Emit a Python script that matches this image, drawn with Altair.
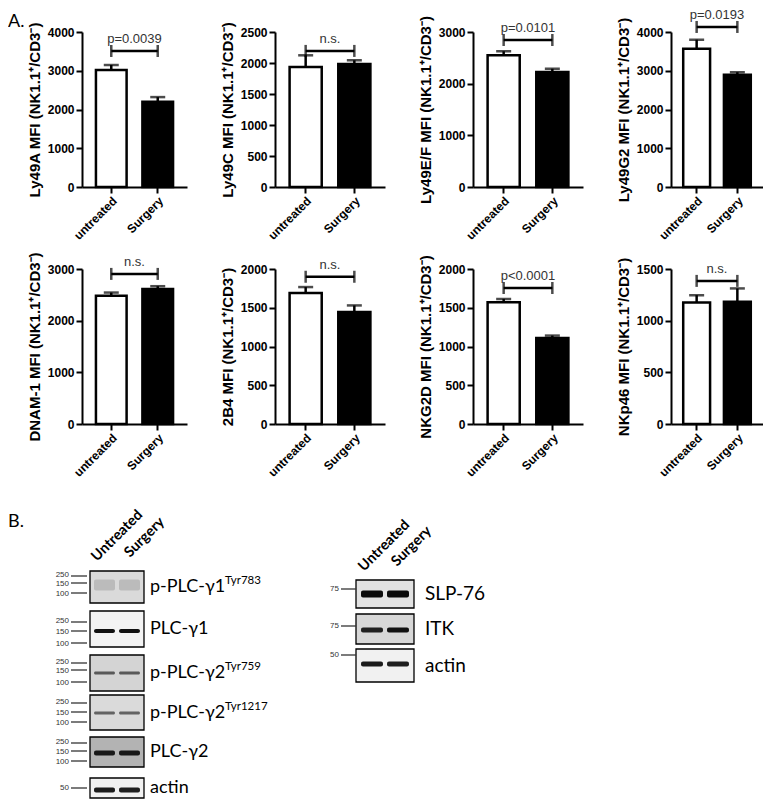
import altair as alt
import pandas as pd

# ---------------- Panel A: values ----------------
groups = ["untreated", "Surgery"]
receptors = ["Ly49A", "Ly49C", "Ly49E/F", "Ly49G2", "DNAM-1", "2B4", "NKG2D", "NKp46"]
mean_untreated = [3020, 1935, 2550, 3570, 2480, 1690, 1570, 1175]
mean_surgery = [2200, 1985, 2225, 2900, 2615, 1445, 1110, 1182]
sem_untreated = [128, 189, 77, 232, 64, 77, 44, 72]
sem_surgery = [120, 59, 64, 62, 52, 85, 31, 130]
axis_max = [4000, 2500, 3000, 4000, 3000, 2000, 2000, 1500]
axis_step = [1000, 500, 1000, 1000, 1000, 500, 500, 500]
p_text = ["p=0.0039", "n.s.", "p=0.0101", "p=0.0193", "n.s.", "n.s.", "p<0.0001", "n.s."]
bracket_level = [3510, 2195, 2845, 4130, 2905, 1900, 1755, 1385]

# ---------------- Panel B: blot contents ----------------
lanes = ["Untreated", "Surgery"]
left_blots = ["p-PLC-γ1", "PLC-γ1", "p-PLC-γ2", "p-PLC-γ2", "PLC-γ2", "actin"]
left_sups = ["Tyr783", "", "Tyr759", "Tyr1217", "", ""]
left_bg = [0.13, 0.04, 0.15, 0.13, 0.27, 0.05]
left_band_untreated = [0.24, 0.95, 0.62, 0.58, 0.92, 0.9]
left_band_surgery = [0.24, 0.95, 0.62, 0.58, 0.92, 0.88]
left_ladders = [["250", "150", "100"]] * 5 + [["50"]]
right_blots = ["SLP-76", "ITK", "actin"]
right_bg = [0.1, 0.14, 0.05]
right_band_untreated = [0.97, 0.88, 0.9]
right_band_surgery = [0.97, 0.95, 0.88]
right_ladders = [["75"], ["75"], ["50"]]

# ---------------- layout (pixels) ----------------
panel_width = [105, 110, 110, 92]
PLOT_H = 155
ROW_GAP = 82
AX_FONT = "Liberation Sans"
BL_FONT = "Lato"
ORIGIN_X = 84          # figure x of the first plot's left edge
B_TOP = 501            # figure y at the top of panel B cell

left_box_x = (92, 146)
left_lane_x = [(96, 117), (121, 142)]
left_box_y = [(566, 598), (606, 642), (650, 686), (690, 725), (732, 762), (773, 793)]
left_band_y = [580, 626, 668, 708, 748, 785]
left_band_h = [11, 4, 3, 3, 5, 5]
left_ladder_y = [[571, 578, 588], [617, 626, 638], [658, 665, 677],
                 [698, 707, 717], [738, 746, 756], [783]]
ladder_text_nudge = [-1.2, 0.6, 0.5]   # keeps the squeezed size labels apart
left_ladder_x = (73, 89)
left_label_x = 152
left_sup_x = 227

right_box_x = (358, 416)
right_lane_x = [(363, 385), (389, 411)]
right_box_y = [(575, 603), (609, 639), (644, 677)]
right_band_y = [589, 625, 659]
right_band_h = [7, 5, 5]
right_ladder_y = [[584], [621], [650]]
right_ladder_x = (343, 358)
right_label_x = 427

lane_anchor_left = [(99, 557), (132, 553)]
lane_anchor_right = [(366, 567), (399, 562)]


def bar_panel(i):
    w = panel_width[i % 4]
    df = pd.DataFrame({
        "group": groups,
        "mean": [mean_untreated[i], mean_surgery[i]],
        "upper": [mean_untreated[i] + sem_untreated[i], mean_surgery[i] + sem_surgery[i]],
    })
    brk = pd.DataFrame({"group": groups, "level": [bracket_level[i]] * 2})
    lab = pd.DataFrame({"level": [bracket_level[i]], "text": [p_text[i]]})

    yscale = alt.Scale(domain=[0, axis_max[i]], nice=False, zero=True)
    yaxis = alt.Axis(
        values=list(range(0, axis_max[i] + 1, axis_step[i])), format="d",
        title=f"{receptors[i]} MFI (NK1.1⁺/CD3⁻)", grid=False,
        domainColor="black", domainWidth=2, tickColor="black", tickWidth=2, tickSize=6,
        labelFont=AX_FONT, labelFontSize=12, labelFontWeight="bold", labelColor="black",
        labelPadding=2, titleFont=AX_FONT, titleFontSize=15, titleFontWeight="bold",
        titleColor="black", titlePadding=5,
    )
    xscale = alt.Scale(domain=groups, paddingInner=0.34, paddingOuter=0.3)
    xaxis = alt.Axis(
        title=None, labelAngle=-45, grid=False,
        labelFont=AX_FONT, labelFontSize=12, labelFontWeight="bold", labelColor="black",
        labelPadding=2, domainColor="black", domainWidth=2, tickColor="black",
        tickWidth=2, tickSize=6,
    )

    def X():
        return alt.X("group:N", scale=xscale, axis=xaxis)

    def Y(f):
        return alt.Y(f"{f}:Q", scale=yscale, axis=yaxis)

    bars = alt.Chart(df).mark_bar(stroke="black", strokeWidth=2.5).encode(
        x=X(), y=Y("mean"),
        fill=alt.Fill("group:N", scale=alt.Scale(domain=groups, range=["white", "black"]), legend=None),
    )
    stem = alt.Chart(df).mark_rule(color="black", strokeWidth=2.5).encode(
        x=X(), y=Y("mean"), y2="upper:Q")
    cap = alt.Chart(df).mark_tick(color="black", thickness=2.5, size=15).encode(
        x=X(), y=Y("upper"))
    line = alt.Chart(brk).mark_line(color="black", strokeWidth=2.5).encode(
        x=X(), y=Y("level"))
    ends = alt.Chart(brk).mark_tick(color="black", thickness=2.5, size=12, orient="vertical").encode(
        x=X(), y=Y("level"))
    txt = alt.Chart(lab).mark_text(baseline="bottom", dy=-5, fontSize=13, font=AX_FONT,
                                   color="#333").encode(
        x=alt.value(w / 2), y=Y("level"), text="text:N")
    layers = [bars, stem, cap, line, ends, txt]
    if i == 0:
        tag = alt.Chart(pd.DataFrame({"t": ["A."]})).mark_text(
            align="left", baseline="top", fontSize=18, font=BL_FONT, color="black").encode(
            x=alt.value(10 - ORIGIN_X), y=alt.value(-19), text="t:N")
        layers.append(tag)
    return alt.layer(*layers).properties(width=w, height=PLOT_H)


# ---------------- Panel B tables ----------------
boxes, bands, ladder_lines, ladder_text = [], [], [], []
labels_l, labels_r, sups, lane_text = [], [], [], []

for k, name in enumerate(left_blots):
    y0, y1 = left_box_y[k]
    boxes.append(dict(x=left_box_x[0], x2=left_box_x[1], y=y0, y2=y1, level=left_bg[k]))
    for (bx0, bx1), lvl in zip(left_lane_x, [left_band_untreated[k], left_band_surgery[k]]):
        h = left_band_h[k]
        bands.append(dict(x=bx0, x2=bx1, y=left_band_y[k] - h / 2, y2=left_band_y[k] + h / 2, level=lvl))
    multi = len(left_ladders[k]) > 1
    for j, (m, yy) in enumerate(zip(left_ladders[k], left_ladder_y[k])):
        ladder_lines.append(dict(x=left_ladder_x[0], x2=left_ladder_x[1], y=yy))
        ty = yy + (ladder_text_nudge[j] if multi else 0)
        ladder_text.append(dict(x=left_ladder_x[0] - 2, y=ty, text=m))
    yc = (y0 + y1) / 2
    labels_l.append(dict(x=left_label_x, y=yc, text=name))
    if left_sups[k]:
        sups.append(dict(x=left_sup_x, y=yc - 6, text=left_sups[k]))

for k, name in enumerate(right_blots):
    y0, y1 = right_box_y[k]
    boxes.append(dict(x=right_box_x[0], x2=right_box_x[1], y=y0, y2=y1, level=right_bg[k]))
    for (bx0, bx1), lvl in zip(right_lane_x, [right_band_untreated[k], right_band_surgery[k]]):
        h = right_band_h[k]
        bands.append(dict(x=bx0, x2=bx1, y=right_band_y[k] - h / 2, y2=right_band_y[k] + h / 2, level=lvl))
    for m, yy in zip(right_ladders[k], right_ladder_y[k]):
        ladder_lines.append(dict(x=right_ladder_x[0], x2=right_ladder_x[1], y=yy))
        ladder_text.append(dict(x=right_ladder_x[0] - 2, y=yy, text=m))
    labels_r.append(dict(x=right_label_x, y=(y0 + y1) / 2, text=name))

for lane, (ax, ay) in zip(lanes, lane_anchor_left):
    lane_text.append(dict(x=ax, y=ay, text=lane))
for lane, (ax, ay) in zip(lanes, lane_anchor_right):
    lane_text.append(dict(x=ax, y=ay, text=lane))

# panel B lives in the first grid cell of a third row; its scales are 1 unit = 1 px
B_W, B_H = panel_width[0], 292
XB = alt.Scale(domain=[ORIGIN_X, ORIGIN_X + B_W], nice=False, zero=False)
YB = alt.Scale(domain=[B_TOP, B_TOP + B_H], nice=False, zero=False, reverse=True)
FILL = alt.Scale(domain=[0, 1], range=["#ffffff", "#000000"])


def bx(f="x"):
    return alt.X(f"{f}:Q", scale=XB, axis=None)


def by(f="y"):
    return alt.Y(f"{f}:Q", scale=YB, axis=None)


box_layer = alt.Chart(pd.DataFrame(boxes)).mark_rect(stroke="black", strokeWidth=1.3).encode(
    x=bx(), x2="x2:Q", y=by(), y2="y2:Q", fill=alt.Fill("level:Q", scale=FILL, legend=None))
band_layer = alt.Chart(pd.DataFrame(bands)).mark_rect(cornerRadius=2).encode(
    x=bx(), x2="x2:Q", y=by(), y2="y2:Q", fill=alt.Fill("level:Q", scale=FILL, legend=None))
ladder_line_layer = alt.Chart(pd.DataFrame(ladder_lines)).mark_rule(color="#333", strokeWidth=1.3).encode(
    x=bx(), x2="x2:Q", y=by())
ladder_text_layer = alt.Chart(pd.DataFrame(ladder_text)).mark_text(
    align="right", baseline="middle", fontSize=8, font=AX_FONT, color="#333").encode(
    x=bx(), y=by(), text="text:N")
label_l_layer = alt.Chart(pd.DataFrame(labels_l)).mark_text(
    align="left", baseline="middle", fontSize=18, font=BL_FONT, color="black").encode(
    x=bx(), y=by(), text="text:N")
label_r_layer = alt.Chart(pd.DataFrame(labels_r)).mark_text(
    align="left", baseline="middle", fontSize=19, font=BL_FONT, color="black").encode(
    x=bx(), y=by(), text="text:N")
sup_layer = alt.Chart(pd.DataFrame(sups)).mark_text(
    align="left", baseline="middle", fontSize=11.5, font=BL_FONT, color="black").encode(
    x=bx(), y=by(), text="text:N")
lane_layer = alt.Chart(pd.DataFrame(lane_text)).mark_text(
    align="left", baseline="alphabetic", angle=315, fontSize=14.5, fontWeight="bold",
    font=BL_FONT, color="black").encode(x=bx(), y=by(), text="text:N")
b_tag = alt.Chart(pd.DataFrame({"x": [10], "y": [508], "text": ["B."]})).mark_text(
    align="left", baseline="top", fontSize=18, font=BL_FONT, color="black").encode(
    x=bx(), y=by(), text="text:N")

panel_b = alt.layer(box_layer, band_layer, ladder_line_layer, ladder_text_layer,
                    label_l_layer, label_r_layer, sup_layer, lane_layer, b_tag).properties(
    width=B_W, height=B_H)

chart = alt.concat(*[bar_panel(i) for i in range(8)], panel_b, columns=4,
                   spacing={"row": ROW_GAP, "column": 88}, bounds="flush", align="each").properties(
    padding=0).configure_view(stroke=None)

chart.save("out.html", embed_options={"renderer": "svg", "actions": False})
